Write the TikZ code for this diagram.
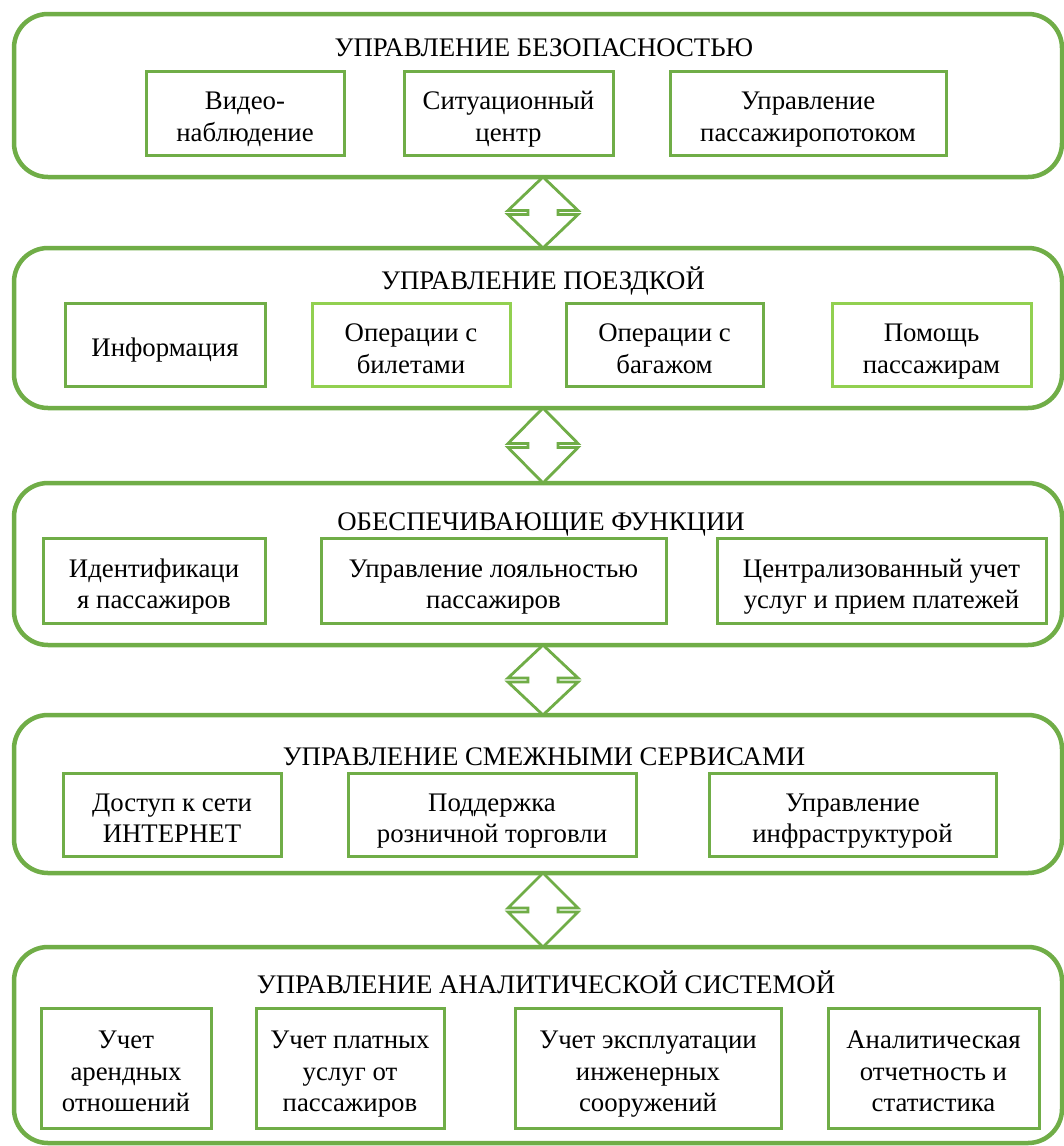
\documentclass[tikz,border=0pt]{standalone}
\usepackage{fontspec}
\setmainfont{Liberation Serif}
\newfontfamily\tnr{Liberation Serif}
\usetikzlibrary{calc}
\definecolor{gdark}{HTML}{70AD47}
\definecolor{glight}{HTML}{92D050}
\tikzset{
  panel/.style={draw=gdark, line width=4.5pt, rounded corners=34pt, fill=white, inner sep=0pt, outer sep=0pt},
  ptitle/.style={font=\tnr\fontsize{26.8}{31.5}\selectfont, inner sep=0pt, text=black},
  fbox/.style={draw=gdark, line width=3pt, fill=white, inner sep=0pt, outer sep=0pt},
  lbox/.style={fbox, draw=glight},
  btext/.style={align=center, inner sep=0pt, font=\tnr\fontsize{26.8}{31.5}\selectfont, text=black},
  dblarr/.style={draw=gdark, line width=2.8pt, fill=white, line join=miter},
}
% #1 style, #2 name, #3 centre, #4 width, #5 height, #6 text
\newcommand\tbox[6]{%
  \node[#1, minimum width=#4pt, minimum height=#5pt] (#2) at (#3) {};
  \node[btext] (#2-t) at ($(#2.center)+(0,6)$) {\strut#6\strut};}
\newcommand\dblarrow[2]{%
  \draw[dblarr] let \p1=(#1), \p2=(#2), \n1={(\y1-\y2-4pt)/2} in
    (\x1+5pt,\y1) -- ++(35pt,-\n1) -- ++(-20pt,0pt) -- ++(0pt,-4pt) -- ++(20pt,0pt)
    -- (\x1+5pt,\y2) -- ++(-35pt,\n1) -- ++(20pt,0pt) -- ++(0pt,4pt) -- ++(-20pt,0pt) -- cycle;}
\begin{document}
\begin{tikzpicture}[x=1pt,y=-1pt]
\useasboundingbox (0,0) rectangle (1064,1146);
\fill[white] (0,0) rectangle (1064,1146);
% panels
\node[panel, minimum width=1048pt, minimum height=163pt] (p1) at (538,95.5) {};
\node[panel, minimum width=1048pt, minimum height=160pt] (p2) at (538,328) {};
\node[panel, minimum width=1048pt, minimum height=162pt] (p3) at (538,564) {};
\node[panel, minimum width=1048pt, minimum height=158pt] (p4) at (538,794) {};
\node[panel, minimum width=1048pt, minimum height=196pt] (p5) at (538,1045) {};
% titles
\node[ptitle] (t1) at (544,48) {УПРАВЛЕНИЕ БЕЗОПАСНОСТЬЮ};
\node[ptitle] (t2) at (543,281) {УПРАВЛЕНИЕ ПОЕЗДКОЙ};
\node[ptitle] (t3) at (541,524) {ОБЕСПЕЧИВАЮЩИЕ ФУНКЦИИ};
\node[ptitle] (t4) at (544,757) {УПРАВЛЕНИЕ СМЕЖНЫМИ СЕРВИСАМИ};
\node[ptitle] (t5) at (546,982) {УПРАВЛЕНИЕ АНАЛИТИЧЕСКОЙ СИСТЕМОЙ};
% panel 1 boxes
\tbox{fbox}{b11}{245,113}{198}{84}{Видео-\\наблюдение}
\tbox{fbox}{b12}{508.5,113}{209}{84}{Ситуационный\\центр}
\tbox{fbox}{b13}{808,113}{276}{84}{Управление\\пассажиропотоком}
% panel 2 boxes
\tbox{fbox}{b21}{165,344.5}{200}{83}{Информация}
\tbox{lbox}{b22}{411,345}{198}{83}{Операции с\\билетами}
\tbox{fbox}{b23}{664.5,345}{197}{83}{Операции с\\багажом}
\tbox{lbox}{b24}{931.5,345}{199}{83}{Помощь\\пассажирам}
% panel 3 boxes
\tbox{fbox}{b31}{154,580.5}{222}{85}{Идентификаци\\я пассажиров}
\tbox{fbox}{b32}{493.5,580.5}{345}{85}{Управление лояльностью\\пассажиров}
\tbox{fbox}{b33}{881.5,580.5}{329}{85}{Централизованный учет\\услуг и прием платежей}
% panel 4 boxes
\tbox{fbox}{b41}{172,814.5}{218}{83}{Доступ к сети\\ИНТЕРНЕТ}
\tbox{fbox}{b42}{492,814.5}{288}{83}{Поддержка\\розничной торговли}
\tbox{fbox}{b43}{852.5,814.5}{287}{83}{Управление\\инфраструктурой}
% panel 5 boxes
\tbox{fbox}{b51}{126,1068}{170}{120}{Учет\\арендных\\отношений}
\tbox{fbox}{b52}{350,1068}{188}{120}{Учет платных\\услуг от\\пассажиров}
\tbox{fbox}{b53}{648,1068}{266}{120}{Учет эксплуатации\\инженерных\\сооружений}
\tbox{fbox}{b54}{933.5,1068}{211}{120}{Аналитическая\\отчетность и\\статистика}
% double arrows
\dblarrow{p1.south}{p2.north}
\dblarrow{p2.south}{p3.north}
\dblarrow{p3.south}{p4.north}
\dblarrow{p4.south}{p5.north}
\end{tikzpicture}
\end{document}
